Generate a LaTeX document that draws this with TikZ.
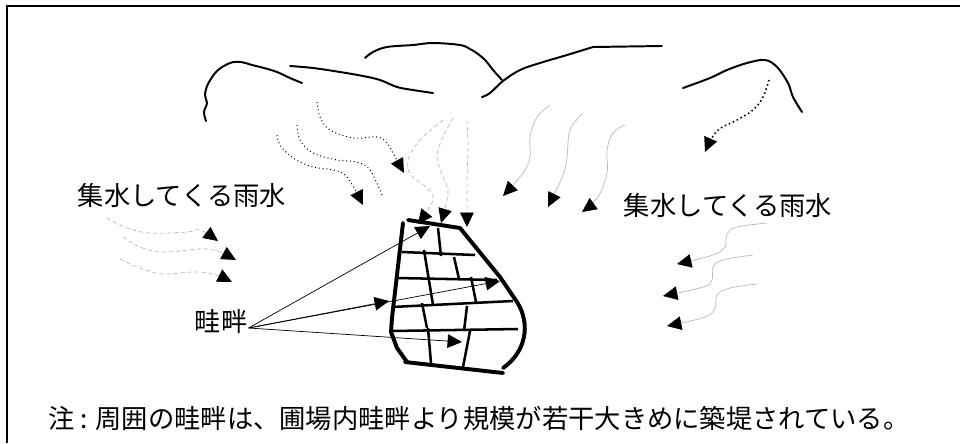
\documentclass[tikz,border=0pt]{standalone}
\usepackage{fontspec}
\newfontfamily\jpfont{Noto Sans CJK JP}
\usetikzlibrary{arrows.meta, calc}

\begin{document}
\begin{tikzpicture}[x=0.025cm, y=-0.025cm,
  ridge/.style={line width=1.4pt, line cap=round, line join=round},
  runoff/.style={gray!55, line width=0.5pt, -{Triangle[length=3.6mm, width=3.4mm, color=black]}},
  seep/.style={black, dotted, line width=0.7pt, -{Triangle[length=3.6mm, width=3.4mm]}},
  bund/.style={line width=2.8pt, line cap=round, line join=round},
  levee/.style={line width=1.8pt},
  pointer/.style={line width=0.5pt, -{Triangle[length=3.6mm, width=3.4mm]}},
  jtext/.style={font=\jpfont\fontsize{18.7}{22}\selectfont, inner sep=0pt}]

\useasboundingbox (0,0) rectangle (960,443);

% Frame (left and top edges)
\draw[line width=1.4pt] (7,443) -- (7,6) -- (960,6);

% Ridge lines of the hills
\draw[ridge] plot[smooth, tension=0.6] coordinates {(206,121) (204,112) (207,103) (205,95) (208,84) (217,71) (230,63) (241,62) (252,65) (264,68) (277,72) (290,78) (302,83)};
\draw[ridge] plot[smooth, tension=0.6] coordinates {(290,66) (313,68) (340,72) (363,76) (380,80) (397,87) (413,90) (433,93)};
\draw[ridge] plot[smooth, tension=0.6] coordinates {(365,58) (373,52) (387,47) (413,45) (433,43) (460,45) (470,49) (478,54) (486,61) (493,70) (502,80)};
\draw[ridge] plot[smooth, tension=0.6] coordinates {(482,97) (490,93) (503,81) (520,70) (540,63) (567,55) (593,47)} -- (662,46);
\draw[ridge] plot[smooth, tension=0.6] coordinates {(683,88) (710,78) (727,70) (747,63) (765,60) (777,67) (788,83) (793,97) (802,112)};

% Seepage from the slopes (dotted)
\draw[seep] plot[smooth, tension=0.6] coordinates {(317,102) (320,117) (330,130) (353,138) (377,137) (387,143) (394,155) (404,173)};
\draw[black, dotted, line width=0.7pt] plot[smooth, tension=0.6] coordinates {(297,125) (300,140) (313,153) (337,160) (357,162) (370,170) (382,195)};
\draw[seep] plot[smooth, tension=0.6] coordinates {(277,135) (280,145) (293,158) (313,167) (333,170) (347,177) (363,205)};
\draw[seep, line width=1.1pt] plot[smooth, tension=0.6] coordinates {(769,80) (763,97) (753,110) (737,120) (717,131) (705,152)};

% Surface runoff from above
\draw[runoff, densely dashed] plot[smooth, tension=0.6] coordinates {(443,120) (422,138) (409,157) (410,174) (426,187) (433,200) (418,224)};
\draw[runoff, densely dashed] plot[smooth, tension=0.6] coordinates {(453,118) (443,137) (437,157) (443,177) (448,193) (441,223)};
\draw[runoff, densely dashed] plot[smooth, tension=0.6] coordinates {(467,120) (468,147) (467,180) (467,227)};
\draw[runoff] plot[smooth, tension=0.6] coordinates {(550,105) (537,117) (530,137) (530,157) (523,173) (503,196)};
\draw[runoff] plot[smooth, tension=0.6] coordinates {(583,113) (570,130) (567,157) (563,175) (548,207)};
\draw[runoff] plot[smooth, tension=0.6] coordinates {(625,125) (613,133) (607,150) (607,173) (598,197) (582,212)};

% Runoff from the left
\draw[runoff, densely dashed] plot[smooth, tension=0.6] coordinates {(107,218) (127,228) (150,233) (187,232) (200,230) (218,241)};
\draw[runoff, densely dashed] plot[smooth, tension=0.6] coordinates {(123,237) (140,247) (163,252) (200,249) (217,251) (236,260)};
\draw[runoff, densely dashed] plot[smooth, tension=0.6] coordinates {(120,259) (140,268) (163,274) (193,272) (213,274) (232,282)};

% Runoff from the right
\draw[runoff] plot[smooth, tension=0.6] coordinates {(767,223) (737,227) (727,234) (725,247) (713,255) (677,264)};
\draw[runoff] plot[smooth, tension=0.6] coordinates {(753,255) (723,260) (713,267) (712,280) (703,287) (663,296)};
\draw[runoff] plot[smooth, tension=0.6] coordinates {(757,284) (730,288) (717,295) (715,308) (705,317) (667,326)};

% Paddy field: outer bunds
\draw[bund] (408,220) -- (460,228) -- (500,277) -- (517,302) .. controls (531,324) and (526,352) .. (503,368);
\draw[bund] (403,223) -- (392,318) -- (391,332) -- (397,348) -- (407,362);
\draw[bund] (405,362) -- (503,373);

% Inner bunds
\draw[levee] (402,252) -- (475,255);
\draw[levee] (397,278) -- (497,280);
\draw[levee] (392,307) -- (513,301);
\draw[levee] (392,331) -- (518,329);
\draw[levee] (438,228) -- (441,256);
\draw[levee] (424,250) -- (433,305);
\draw[levee] (454,257) -- (459,279);
\draw[levee] (471,277) -- (476,302);
\draw[levee] (422,303) -- (427,328);
\draw[levee] (467,306) -- (464,331);
\draw[levee] (428,328) -- (431,363);
\draw[levee] (470,331) -- (463,367);

% Labels
\node[jtext] (rainL) at (182,195) {集水してくる雨水};
\node[jtext] (rainR) at (728,205) {集水してくる雨水};
\node[jtext] (aze) at (221,321) {畦畔};
\node[jtext, anchor=west] (note) at (48,418) {注 : 周囲の畦畔は、圃場内畦畔より規模が若干大きめに築堤されている。};

% Pointers from the bund label
\coordinate (fan) at ($(aze.east)+(1,7)$);
\coordinate (topBund) at (430,226);
\coordinate (leftBund) at (389,301);
\coordinate (midBund) at (500,281);
\coordinate (lowBund) at (462,342);
\draw[pointer] (fan) -- (topBund);
\draw[pointer] (fan) -- (leftBund);
\draw[pointer] (fan) -- (midBund);
\draw[pointer] (fan) -- (lowBund);

\end{tikzpicture}
\end{document}
